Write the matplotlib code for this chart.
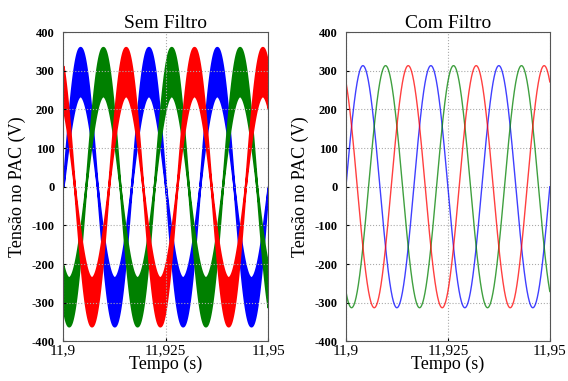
import matplotlib
matplotlib.use("Agg")
import matplotlib.pyplot as plt
import numpy as np

# phase order: a, b, c
PHASE_NAMES = ["a", "b", "c"]
PHASE_COLORS = ["#0000ff", "#008000", "#ff0000"]
PHASE_ANGLES_DEG = [0, -120, 120]

FREQ_HZ = 60
T_START = 11.9
T_END = 11.95

# unfiltered PCC voltage: PWM band between inner and outer envelope peaks (V)
RAW_INNER_PEAK = 235
RAW_OUTER_PEAK = 360
# filtered PCC voltage peak (V)
FILT_PEAK = 313

X_TICKS = [11.9, 11.925, 11.95]
X_TICK_LABELS = ["11,9", "11,925", "11,95"]
Y_TICKS = [-400, -300, -200, -100, 0, 100, 200, 300, 400]

plt.rcParams["font.family"] = ["Liberation Serif", "DejaVu Serif"]

t = np.linspace(T_START, T_END, 4000)


def phase_wave(peak, angle_deg):
    """Sine of the grid at the given peak and phase angle."""
    return peak * np.sin(2 * np.pi * FREQ_HZ * (t - T_START) + np.deg2rad(angle_deg))


def style_axes(ax, title):
    ax.set_xlim(T_START, T_END)
    ax.set_ylim(-400, 400)
    ax.set_xticks(X_TICKS)
    ax.set_xticklabels(X_TICK_LABELS, fontsize=11)
    ax.set_yticks(Y_TICKS)
    ax.set_yticklabels([str(v) for v in Y_TICKS], fontsize=9, fontweight="bold")
    ax.tick_params(axis="x", pad=2, length=2, direction="in")
    ax.tick_params(axis="y", pad=6, length=2, direction="in")
    ax.grid(True, color="#aaaaaa", linestyle=":", linewidth=0.8)
    ax.set_title(title, fontsize=14, pad=1)
    ax.set_xlabel("Tempo (s)", fontsize=13, labelpad=-1)
    ax.set_ylabel("Tensão no PAC (V)", fontsize=13, labelpad=4)
    for s in ax.spines.values():
        s.set_color("#555555")
        s.set_linewidth(0.8)


fig = plt.figure(figsize=(5.68, 3.81), dpi=100)
ax1 = fig.add_axes([0.111, 0.104, 0.361, 0.812])
ax2 = fig.add_axes([0.609, 0.104, 0.359, 0.812])

for color, ang in zip(PHASE_COLORS, PHASE_ANGLES_DEG):
    inner = phase_wave(RAW_INNER_PEAK, ang)
    outer = phase_wave(RAW_OUTER_PEAK, ang)
    ax1.fill_between(t, inner, outer, color=color, edgecolor=color, linewidth=1.6)

for color, ang in zip(PHASE_COLORS, PHASE_ANGLES_DEG):
    ax2.plot(t, phase_wave(FILT_PEAK, ang), color=color, linewidth=1.0, alpha=0.75)

style_axes(ax1, "Sem Filtro")
style_axes(ax2, "Com Filtro")

fig.savefig("out.png", dpi=100)
